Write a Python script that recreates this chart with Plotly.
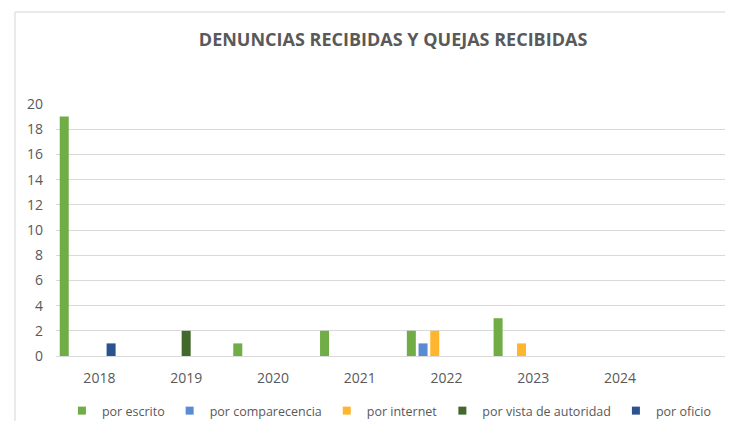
import plotly.graph_objects as go

# Years on the category axis
years = ["2018", "2019", "2020", "2021", "2022", "2023", "2024"]

# Complaints received per channel and year
por_escrito = [19, None, 1, 2, 2, 3, None]
por_comparecencia = [None, None, None, None, 1, None, None]
por_internet = [None, None, None, None, 2, 1, None]
por_vista_de_autoridad = [None, 2, None, None, None, None, None]
por_oficio = [1, None, None, None, None, None, None]
# two further channels with no records in any year (keep their slots in each group)
otro_a = [None] * 7
otro_b = [None] * 7

series = [
    ("por escrito", por_escrito, "#70AD47", True),
    ("por comparecencia", por_comparecencia, "#5B8BD3", True),
    ("por internet", por_internet, "#FFB52E", True),
    ("por vista de autoridad", por_vista_de_autoridad, "#43682B", True),
    ("por oficio", por_oficio, "#2B5390", True),
    ("otro A", otro_a, "#999999", False),
    ("otro B", otro_b, "#999999", False),
]

fig = go.Figure()
for name, values, color, show in series:
    fig.add_trace(go.Bar(
        x=years, y=values, name=name, legendgroup=name,
        marker=dict(color=color, line=dict(width=0)),
        showlegend=False,
    ))
# small square legend keys for the visible channels
for name, values, color, show in series:
    if show:
        fig.add_trace(go.Scatter(
            x=[None], y=[None], mode="markers", name=name, legendgroup=name,
            marker=dict(symbol="square", size=8, color=color),
            showlegend=True,
        ))

text_color = "#595959"
grid_color = "#D9D9D9"

fig.update_layout(
    width=732, height=421,
    paper_bgcolor="white", plot_bgcolor="white",
    margin=dict(l=56, r=7, t=104, b=65),
    barmode="group", bargap=0.055, bargroupgap=0.23,
    font=dict(family="Open Sans", size=13, color=text_color),
    title=dict(
        text="<b>DENUNCIAS RECIBIDAS Y QUEJAS RECIBIDAS</b>",
        font=dict(family="Open Sans", size=18, color=text_color),
        x=0.537, xanchor="center", y=1 - 40 / 421, yanchor="middle",
        xref="container", yref="container",
    ),
    xaxis=dict(
        type="category", range=[-0.5, 7.21],
        showgrid=False, showline=False, zeroline=False,
        tickfont=dict(size=14, color=text_color),
        ticklabelstandoff=12,
    ),
    yaxis=dict(
        range=[0, 20], dtick=2,
        showgrid=True, gridcolor=grid_color, gridwidth=1,
        zeroline=True, zerolinecolor=grid_color, zerolinewidth=1,
        showline=False,
        tickfont=dict(size=14, color=text_color),
        ticklabelstandoff=12,
    ),
    legend=dict(
        orientation="h", xref="container", yref="container",
        x=0.532, xanchor="center", y=10 / 421, yanchor="middle",
        font=dict(size=12.5, color=text_color),
        itemwidth=30, traceorder="normal",
        bgcolor="rgba(0,0,0,0)",
    ),
    shapes=[
        dict(type="line", xref="paper", yref="paper",
             x0=(15 - 56) / 669, x1=(15 - 56) / 669,
             y0=(421 - 12 - 65) / 252, y1=-65 / 252,
             line=dict(color="#E3E3E3", width=1.5)),
        dict(type="line", xref="paper", yref="paper",
             x0=(15 - 56) / 669, x1=1.0,
             y0=(421 - 12 - 65) / 252, y1=(421 - 12 - 65) / 252,
             line=dict(color="#E3E3E3", width=1.5)),
    ],
)

fig.write_html("out.html")
